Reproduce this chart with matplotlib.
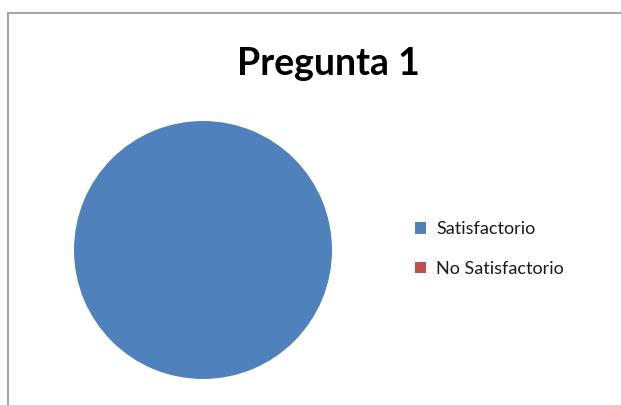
import matplotlib
matplotlib.use("Agg")
import matplotlib.pyplot as plt
from matplotlib.patches import Rectangle

labels = ["Satisfactorio", "No Satisfactorio"]
values = [1, 0]
colors = ["#4F81BD", "#C0504D"]

plt.rcParams['font.family'] = ['Lato', 'DejaVu Sans']

fig = plt.figure(figsize=(6.21, 4.05), dpi=100)

# grey chart frame (cut by the image on the right and bottom)
fig.patches.append(Rectangle((8/621, -0.1), 1.2, 392/405 + 0.1, transform=fig.transFigure,
                             fill=False, edgecolor="#a6a6a6", linewidth=1.5))

ax = fig.add_axes([74/621, 26/405, 258/621, 258/405])
wedges, _ = ax.pie(values, colors=colors, startangle=90, counterclock=False)
ax.set_xlim(-1, 1)
ax.set_ylim(-1, 1)
ax.set_aspect("equal")

fig.text(328/621, 1 - 64/405, "Pregunta 1", ha="center", va="center",
         fontsize=27, fontweight="bold", color="#000000")

fig.legend(wedges, labels, loc="center left", bbox_to_anchor=(399/621, 1 - 249/405),
           frameon=False, fontsize=13, handlelength=0.6, handleheight=0.6,
           handletextpad=0.55, labelspacing=1.3, labelcolor="#1a1a1a")

fig.savefig("out.png", dpi=100)
